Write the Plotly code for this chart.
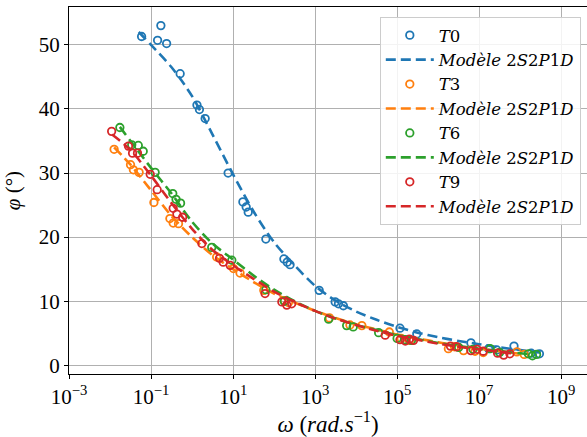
import plotly.graph_objects as go

t0_log_omega = [-1.23, -0.76, -0.84, -0.62, -0.29, 0.12, 0.18, 0.32, 0.88, 1.24, 1.32, 1.37,
                1.80, 2.24, 2.32, 2.39, 3.10, 3.49, 3.57, 3.69, 5.07, 5.48, 6.80, 7.23,
                7.43, 7.85, 8.27, 8.47]
t0_phi = [51.3, 53.0, 50.7, 50.2, 45.5, 40.6, 39.9, 38.5, 30.0, 25.5, 24.7, 23.9,
          19.7, 16.6, 16.1, 15.7, 11.7, 9.9, 9.6, 9.3, 5.8, 4.9, 3.5, 2.6,
          2.4, 3.0, 1.9, 1.8]

t3_log_omega = [-1.90, -1.50, -1.43, -1.29, -0.93, -0.54, -0.46, -0.33, 0.60, 1.01, 1.17,
                1.75, 2.25, 2.35, 3.35, 3.85, 4.14, 4.81, 5.10, 5.30, 6.25, 6.40, 6.62,
                6.90, 7.10, 7.92, 8.10]
t3_phi = [33.7, 31.3, 30.5, 30.1, 25.4, 22.9, 22.2, 22.1, 16.9, 15.1, 14.4,
          11.7, 10.1, 9.8, 7.4, 6.3, 6.2, 5.2, 4.2, 3.9, 2.6, 2.9, 2.3,
          2.2, 2.0, 2.1, 1.7]

t6_log_omega = [-1.76, -1.47, -1.31, -1.19, -0.90, -0.47, -0.39, -0.28, 0.48, 0.97, 1.80,
                2.25, 3.33, 3.77, 3.93, 4.55, 5.00, 5.20, 5.35, 6.50, 6.85, 7.27, 7.50,
                8.20, 8.30, 8.40]
t6_phi = [37.1, 34.4, 34.3, 33.4, 30.1, 26.8, 25.9, 25.3, 18.4, 16.4, 11.8,
          10.0, 7.2, 6.2, 6.0, 5.1, 4.2, 4.0, 3.9, 2.8, 2.5, 2.6, 2.0,
          1.8, 1.5, 1.7]

t9_log_omega = [-1.96, -1.55, -1.45, -1.33, -1.02, -0.85, -0.46, -0.37, -0.23, 0.24, 0.67,
                0.76, 0.93, 1.78, 2.19, 2.31, 2.43, 4.71, 5.07, 5.20, 5.30, 5.40, 6.30,
                6.45, 6.80, 6.95, 7.10, 7.45, 7.60, 7.75]
t9_phi = [36.5, 34.2, 33.1, 33.1, 29.8, 27.4, 24.5, 23.6, 23.1, 19.0, 16.7,
          16.1, 15.6, 11.2, 9.9, 9.4, 9.6, 4.7, 4.0, 3.8, 4.1, 3.9, 3.0,
          2.9, 2.3, 2.5, 2.2, 1.9, 1.6, 1.8]

# 2S2P1D model curves
m0_log_omega = [-1.30, -1.0, -0.5, 0.0, 0.5, 1.0, 1.5, 2.0, 2.5, 3.0, 3.5, 4.0, 4.5,
                5.0, 5.5, 6.0, 6.5, 7.0, 7.5, 8.0, 8.6]
m0_phi = [52.0, 50.0, 46.5, 42.0, 36.0, 29.8, 24.0, 19.2, 15.6, 12.4, 10.1, 8.4, 7.1,
          6.0, 5.1, 4.4, 3.8, 3.3, 2.8, 2.4, 1.9]

m3_log_omega = [-1.90, -1.5, -1.0, -0.5, 0.0, 0.5, 1.0, 1.5, 2.0, 2.5, 3.0, 3.5, 4.0,
                4.5, 5.0, 5.5, 6.0, 6.5, 7.0, 7.5, 8.0]
m3_phi = [34.0, 31.3, 27.3, 23.3, 20.0, 17.2, 15.0, 13.0, 11.2, 9.8, 8.5, 7.4, 6.4,
          5.6, 4.8, 4.2, 3.6, 3.1, 2.6, 2.2, 1.8]

m6_log_omega = [-1.76, -1.5, -1.0, -0.5, 0.0, 0.5, 1.0, 1.5, 2.0, 2.5, 3.0, 3.5, 4.0,
                4.5, 5.0, 5.5, 6.0, 6.5, 7.0, 7.5, 8.3]
m6_phi = [37.2, 35.0, 30.8, 26.8, 22.4, 19.0, 16.5, 14.0, 11.8, 10.0, 8.5, 7.3, 6.3,
          5.5, 4.7, 4.1, 3.5, 3.0, 2.6, 2.2, 1.7]

m9_log_omega = [-1.95, -1.5, -1.0, -0.5, 0.0, 0.5, 1.0, 1.5, 2.0, 2.5, 3.0, 3.5, 4.0,
                4.5, 5.0, 5.5, 6.0, 6.5, 7.0, 7.5, 7.9]
m9_phi = [36.0, 33.6, 29.6, 25.3, 21.3, 18.0, 15.6, 13.5, 11.5, 9.9, 8.5, 7.3, 6.3,
          5.4, 4.6, 4.0, 3.4, 2.9, 2.5, 2.1, 1.8]

series_names = ["<i>T</i>0", "<i>T</i>3", "<i>T</i>6", "<i>T</i>9"]
model_name = "<i>Modèle</i> 2<i>S</i>2<i>P</i>1<i>D</i>"

x_tick_exponents = [-3, -1, 1, 3, 5, 7, 9]
y_ticks = [0, 10, 20, 30, 40, 50]

# ---------------- styling ----------------
colors = ["#1f77b4", "#ff7f0e", "#2ca02c", "#d62728"]
FONT = "Liberation Serif, DejaVu Serif, serif"
LEGEND_FONT = "DejaVu Serif, Liberation Serif, serif"

data_sets = [(t0_log_omega, t0_phi), (t3_log_omega, t3_phi),
             (t6_log_omega, t6_phi), (t9_log_omega, t9_phi)]
model_sets = [(m0_log_omega, m0_phi), (m3_log_omega, m3_phi),
              (m6_log_omega, m6_phi), (m9_log_omega, m9_phi)]

fig = go.Figure()
for name, color, (lx, y), (mlx, my) in zip(series_names, colors, data_sets, model_sets):
    fig.add_trace(go.Scatter(
        x=[10 ** v for v in lx], y=y, mode="markers", name=name,
        marker=dict(symbol="circle-open", size=7.5, color=color, line=dict(width=1.8, color=color)),
    ))
    fig.add_trace(go.Scatter(
        x=[10 ** v for v in mlx], y=my, mode="lines", name=model_name,
        line=dict(color=color, width=2.6, dash="10px,5px", shape="spline", smoothing=0.8),
    ))

grid_color = "#b0b0b0"
fig.update_xaxes(
    type="log", range=[-3, 9.63], automargin=False,
    tickvals=[10 ** e for e in x_tick_exponents],
    ticktext=["10<sup>%s</sup>" % (str(e).replace("-", "−")) for e in x_tick_exponents],
    showgrid=True, gridcolor=grid_color, gridwidth=1,
    showline=True, linecolor="black", linewidth=1.2, mirror=True,
    ticks="outside", ticklen=4, tickcolor="black",
    tickfont=dict(family=FONT, size=21, color="black"),
    title=dict(text="<i>ω</i> (<i>rad.s</i><sup>−1</sup>)",
               font=dict(family=FONT, size=23, color="black"), standoff=2),
    zeroline=False,
)
fig.update_yaxes(
    range=[-1.35, 55.9], automargin=False,
    tickvals=y_ticks,
    showgrid=True, gridcolor=grid_color, gridwidth=1,
    showline=True, linecolor="black", linewidth=1.2, mirror=False,
    ticks="outside", ticklen=4, tickcolor="black",
    tickfont=dict(family=FONT, size=21, color="black"),
    title=dict(text="<i>φ</i> (°)", font=dict(family=FONT, size=21, color="black"), standoff=12),
    zeroline=False,
)

fig.update_layout(
    width=587, height=437,
    margin=dict(l=69, r=0, t=7, b=63, autoexpand=False),
    paper_bgcolor="white", plot_bgcolor="white",
    showlegend=True,
    legend=dict(
        x=0.6, y=0.973, xanchor="left", yanchor="top",
        bgcolor="rgba(255,255,255,0.85)", bordercolor="#cccccc", borderwidth=1,
        font=dict(family=LEGEND_FONT, size=16.5, color="black"),
        tracegroupgap=0, itemwidth=48,
    ),
)

fig.write_html("out.html", config={"displayModeBar": False},
               post_script="document.body.style.margin='0';")
